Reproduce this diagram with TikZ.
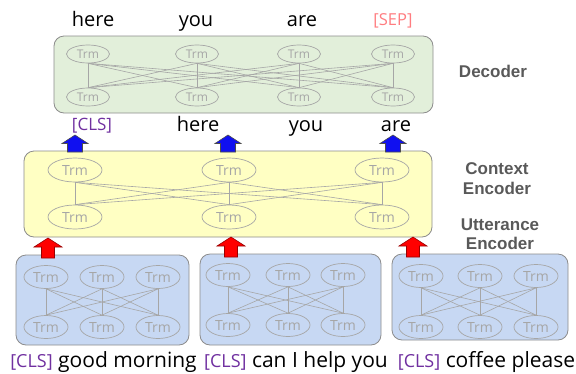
\documentclass[tikz,border=0pt]{standalone}
\usepackage{fontspec}
\setmainfont{Open Sans}
\newfontfamily\labfont{Liberation Sans}
\usetikzlibrary{shapes.geometric}
\definecolor{decfill}{HTML}{E2EFDA}
\definecolor{ctxfill}{HTML}{FFFFC3}
\definecolor{uttfill}{HTML}{C7D8F3}
\definecolor{boxline}{HTML}{8C8C8C}
\definecolor{trmgray}{HTML}{A6A6A6}
\definecolor{clspurple}{HTML}{7030A0}
\definecolor{seppink}{HTML}{FF7C80}
\definecolor{labgray}{HTML}{595959}
\definecolor{arrblue}{HTML}{1010F0}
\definecolor{arrred}{HTML}{FF0000}
\begin{document}
\begin{tikzpicture}[x=1pt,y=-1pt,
  panel/.style={draw=boxline,rounded corners=10pt,line width=0.8pt},
  trm/.style={ellipse,draw=trmgray,text=trmgray,inner sep=0pt,line width=0.7pt,
    minimum width=44pt,minimum height=23pt,font=\fontsize{14}{16}\selectfont},
  dtrm/.style={trm,minimum width=43pt,minimum height=18pt,font=\fontsize{12}{14}\selectfont},
  ctrm/.style={trm,minimum width=54pt,minimum height=24pt,font=\fontsize{14}{16}\selectfont},
  link/.style={draw=trmgray,line width=0.6pt},
  word/.style={font=\fontsize{20}{24}\selectfont,inner sep=0pt,anchor=base},
  sent/.style={font=\fontsize{21}{24}\selectfont,inner sep=0pt,anchor=base},
  lab/.style={font=\labfont\bfseries\fontsize{17}{20}\selectfont,text=labgray,inner sep=0pt,anchor=base},
  redarr/.pic={\filldraw[fill=arrred,draw=arrred!60!black,line width=0.6pt]
     (0,0) -- (14,9) -- (6.5,9) -- (6.5,20) -- (-6.5,20) -- (-6.5,9) -- (-14,9) -- cycle;},
  bluearr/.pic={\filldraw[fill=arrblue,draw=black!70,line width=0.6pt]
     (0,0) -- (13,8.5) -- (7.5,8.5) -- (7.5,17) -- (-7.5,17) -- (-7.5,8.5) -- (-13,8.5) -- cycle;}
]
\useasboundingbox (0,0) rectangle (576,373);

% ---------- Decoder ----------
\draw[panel,fill=decfill] (54,36) rectangle (433,113);
\foreach \i/\x in {1/88,2/197,3/299,4/393}{
  \node[dtrm] (dt\i) at (\x,54) {Trm};
  \node[dtrm] (db\i) at (\x,97) {Trm};
}
\foreach \i in {1,...,4}{\foreach \j in {1,...,4}{\draw[link] (dt\i.south) -- (db\j.north);}}
\node[word] (o1) at (93,26) {here};
\node[word] (o2) at (196,26) {you};
\node[word] (o3) at (302,26) {are};
\node[word,text=seppink,font=\fontsize{16.5}{18}\selectfont] (o4) at (393,25) {[SEP]};
\node[lab] (ldec) at (493,77) {Decoder};

% ---------- Context encoder ----------
\draw[panel,fill=ctxfill] (24,151) rectangle (432,237);
\foreach \i/\x in {1/75,2/229,3/382}{
  \node[ctrm] (ct\i) at (\x,170) {Trm};
  \node[ctrm] (cb\i) at (\x,217) {Trm};
}
\foreach \i in {1,...,3}{\foreach \j in {1,...,3}{\draw[link] (ct\i.south) -- (cb\j.north);}}
\node[word,text=clspurple,font=\fontsize{17}{20}\selectfont] (m1) at (92,130) {[CLS]};
\node[word] (m2) at (198,131) {here};
\node[word] (m3) at (306,131) {you};
\node[word] (m4) at (396,131) {are};
\pic at (75,135) {bluearr};
\pic at (228,135) {bluearr};
\pic at (393,135) {bluearr};
\node[lab] (lctx1) at (497,174) {Context};
\node[lab] (lctx2) at (497,194) {Encoder};

% ---------- Utterance encoders ----------
\draw[panel,fill=uttfill] (16,255) rectangle (189,345);
\draw[panel,fill=uttfill] (200,254) rectangle (381,345);
\draw[panel,fill=uttfill] (392,254) rectangle (568,340);
\foreach \u/\a/\b/\c/\yt/\yb in {1/46/102/158/277/327, 2/228/288/343/275/325, 3/421/480/536/276/327}{
  \node[trm] (u\u t1) at (\a,\yt) {Trm};
  \node[trm] (u\u t2) at (\b,\yt) {Trm};
  \node[trm] (u\u t3) at (\c,\yt) {Trm};
  \node[trm] (u\u b1) at (\a,\yb) {Trm};
  \node[trm] (u\u b2) at (\b,\yb) {Trm};
  \node[trm] (u\u b3) at (\c,\yb) {Trm};
  \foreach \i in {1,2,3}{\foreach \j in {1,2,3}{\draw[link] (u\u t\i.south) -- (u\u b\j.north);}}
}
\pic at (48,238) {redarr};
\pic at (231,237) {redarr};
\pic at (413,237) {redarr};
\node[lab] (lutt1) at (500,230) {Utterance};
\node[lab] (lutt2) at (500,249) {Encoder};

\node[sent] (s1) at (103.5,367) {\textcolor{clspurple}{\fontsize{18}{20}\selectfont[CLS]} good morning};
\node[sent] (s2) at (296,367) {\textcolor{clspurple}{\fontsize{18}{20}\selectfont[CLS]} can I help you};
\node[sent] (s3) at (486.5,367) {\textcolor{clspurple}{\fontsize{18}{20}\selectfont[CLS]} coffee please};
\end{tikzpicture}
\end{document}
